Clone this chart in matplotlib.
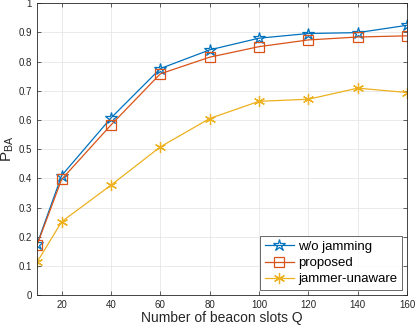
import matplotlib
matplotlib.use("Agg")
import matplotlib.pyplot as plt

plt.rcParams['font.family'] = ['Liberation Sans', 'DejaVu Sans']
plt.rcParams['mathtext.default'] = 'regular'
plt.rcParams['mathtext.fontset'] = 'custom'
plt.rcParams['mathtext.rm'] = 'Liberation Sans'
plt.rcParams['mathtext.it'] = 'Liberation Sans'

Q = [10, 20, 40, 60, 80, 100, 120, 140, 160]
wo_jamming = [0.175, 0.41, 0.607, 0.776, 0.84, 0.88, 0.896, 0.899, 0.924]
proposed = [0.172, 0.397, 0.583, 0.758, 0.815, 0.851, 0.874, 0.884, 0.888]
jammer_unaware = [0.113, 0.252, 0.377, 0.508, 0.605, 0.664, 0.671, 0.709, 0.694]
xticks = [20, 40, 60, 80, 100, 120, 140, 160]
yticks = [0, 0.1, 0.2, 0.3, 0.4, 0.5, 0.6, 0.7, 0.8, 0.9, 1]
ytick_labels = ['0', '0.1', '0.2', '0.3', '0.4', '0.5', '0.6', '0.7', '0.8', '0.9', '1']

fig = plt.figure(figsize=(4.15, 3.25), dpi=100)
ax = fig.add_axes([0.0892, 0.0914, 0.8915, 0.8990])

ax.plot(Q, wo_jamming, color='#0072BD', marker='*', markersize=9, markerfacecolor='none',
        markeredgewidth=0.9, linewidth=0.9, label='w/o jamming')
ax.plot(Q, proposed, color='#D95319', marker='s', markersize=7, markerfacecolor='none',
        markeredgewidth=0.9, linewidth=0.9, label='proposed')
ax.plot(Q, jammer_unaware, color='#EDB120', marker=(6, 2, 0), markersize=8,
        markeredgewidth=0.9, linewidth=0.9, label='jammer-unaware')

ax.set_xlim(10, 160)
ax.set_ylim(0, 1)
ax.set_xticks(xticks)
ax.set_yticks(yticks)
ax.set_yticklabels(ytick_labels)
ax.tick_params(direction='in', labelsize=7, colors='#262626', length=3, width=0.5,
               top=True, right=True)
ax.grid(True, color='#e6e6e6', linewidth=0.6)
ax.set_axisbelow(True)
for s in ax.spines.values():
    s.set_color('#262626')
    s.set_linewidth(0.6)

ax.set_xlabel('Number of beacon slots Q', fontsize=10, color='#262626', labelpad=0.5)
ax.set_ylabel('$P_{BA}$', fontsize=11, color='#262626', labelpad=2)

leg = ax.legend(loc='lower right', fontsize=9.5, frameon=True, fancybox=False,
                edgecolor='#262626', borderpad=0.35, labelspacing=0.3,
                handlelength=2.2, handletextpad=0.3, borderaxespad=0.4)
leg.get_frame().set_linewidth(0.6)

fig.savefig('out.png', dpi=100)
